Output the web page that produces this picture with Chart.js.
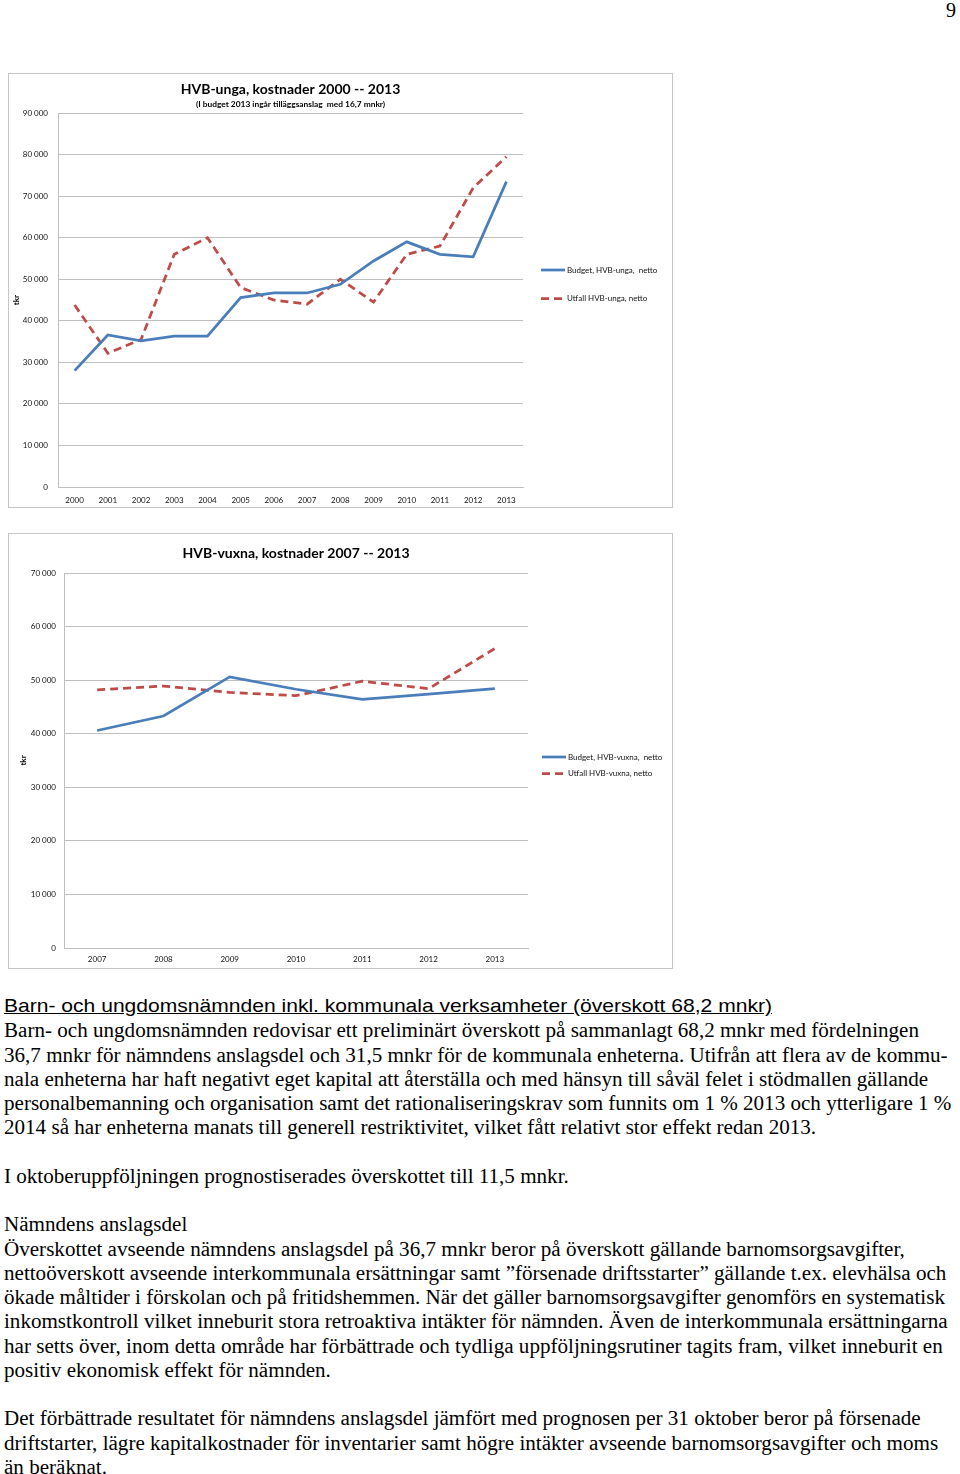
<!DOCTYPE html>
<html>
<head>
<meta charset="utf-8">
<script src="https://cdn.jsdelivr.net/npm/chart.js@4.4.1/dist/chart.umd.min.js"></script>
<style>
  body { margin: 0; background: #fff; width: 960px; height: 1474px; position: relative; overflow: hidden; }
  .pageno { position: absolute; right: 4px; top: -1px; font: 20px "Liberation Serif", serif; }
  .box { position: absolute; left: 8px; width: 663px; border: 1px solid #c6c6c6; background: #fff; }
  .box canvas { display: block; }
  #text { position: absolute; left: 4px; top: 995px; line-height: 24.26px; color: #000; }
  #text div { white-space: pre; height: 24.26px; transform-origin: 0 50%; }
  #text .head { font: 19px "Liberation Sans", Arial, sans-serif; text-decoration: underline; }
  #text .body { font: 20px "Liberation Serif", "Times New Roman", serif; }
</style>
</head>
<body>
<div class="pageno">9</div>
<div class="box" id="box1" style="top:73px;height:433px"><canvas id="unga" width="663" height="433"></canvas></div>
<div class="box" id="box2" style="top:533px;height:434px"><canvas id="vuxna" width="663" height="434"></canvas></div>

<div id="text">
  <div class="head">Barn- och ungdomsnämnden inkl. kommunala verksamheter (överskott 68,2 mnkr)</div>
  <div class="body" id="ref">Barn- och ungdomsnämnden redovisar ett preliminärt överskott på sammanlagt 68,2 mnkr med fördelningen</div>
  <div class="body">36,7 mnkr för nämndens anslagsdel och 31,5 mnkr för de kommunala enheterna. Utifrån att flera av de kommu-</div>
  <div class="body">nala enheterna har haft negativt eget kapital att återställa och med hänsyn till såväl felet i stödmallen gällande</div>
  <div class="body">personalbemanning och organisation samt det rationaliseringskrav som funnits om 1 % 2013 och ytterligare 1 %</div>
  <div class="body">2014 så har enheterna manats till generell restriktivitet, vilket fått relativt stor effekt redan 2013.</div>
  <div class="body"> </div>
  <div class="body">I oktoberuppföljningen prognostiserades överskottet till 11,5 mnkr.</div>
  <div class="body"> </div>
  <div class="body">Nämndens anslagsdel</div>
  <div class="body">Överskottet avseende nämndens anslagsdel på 36,7 mnkr beror på överskott gällande barnomsorgsavgifter,</div>
  <div class="body">nettoöverskott avseende interkommunala ersättningar samt ”försenade driftsstarter” gällande t.ex. elevhälsa och</div>
  <div class="body">ökade måltider i förskolan och på fritidshemmen. När det gäller barnomsorgsavgifter genomförs en systematisk</div>
  <div class="body">inkomstkontroll vilket inneburit stora retroaktiva intäkter för nämnden. Även de interkommunala ersättningarna</div>
  <div class="body">har setts över, inom detta område har förbättrade och tydliga uppföljningsrutiner tagits fram, vilket inneburit en</div>
  <div class="body">positiv ekonomisk effekt för nämnden.</div>
  <div class="body"> </div>
  <div class="body">Det förbättrade resultatet för nämndens anslagsdel jämfört med prognosen per 31 oktober beror på försenade</div>
  <div class="body">driftstarter, lägre kapitalkostnader för inventarier samt högre intäkter avseende barnomsorgsavgifter och moms</div>
  <div class="body">än beräknat.</div>
</div>

<script>
// HVB-unga 2000-2013 (tkr)
const ungaYears = ['2000', '2001', '2002', '2003', '2004', '2005', '2006', '2007', '2008', '2009', '2010', '2011', '2012', '2013'];
const ungaBudget = [28000, 36600, 35200, 36300, 36300, 45600, 46700, 46700, 48800, 54400, 59000, 56000, 55400, 73500];
const ungaUtfall = [43800, 32200, 35500, 56000, 60000, 48000, 45000, 44000, 50000, 44500, 56000, 58000, 72000, 79500];

// HVB-vuxna 2007-2013 (tkr)
const vuxnaYears = ['2007', '2008', '2009', '2010', '2011', '2012', '2013'];
const vuxnaBudget = [40600, 43300, 50600, 48300, 46400, 47400, 48400];
const vuxnaUtfall = [48200, 48900, 47700, 47100, 49800, 48400, 55900];

const FONT = 'Lato, "Open Sans", sans-serif';

// line samples + labels to the right of the plot
const sideLegend = {
    id: 'sideLegend',
    afterDraw(chart, args, opts) {
        const ctx = chart.ctx;
        chart.data.datasets.forEach((ds, i) => {
            const y = opts.y + i * opts.gap;
            ctx.save();
            ctx.strokeStyle = ds.borderColor;
            ctx.lineWidth = ds.borderWidth;
            ctx.setLineDash(ds.borderDash || []);
            ctx.beginPath();
            ctx.moveTo(opts.x, y);
            ctx.lineTo(opts.x + 24, y);
            ctx.stroke();
            ctx.setLineDash([]);
            ctx.fillStyle = '#111';
            ctx.font = '8px ' + FONT;
            ctx.textBaseline = 'middle';
            ctx.fillText(ds.label, opts.x + opts.textGap, y);
            ctx.restore();
        });
    }
};

function fmt(v) {
    return v === 0 ? '0' : String(v).replace(/\B(?=(\d{3})+(?!\d))/g, ' ');
}

function makeChart(id, years, budget, utfall, cfg) {
    return new Chart(document.getElementById(id), {
        type: 'line',
        data: {
            labels: years,
            datasets: [{
                label: cfg.budgetLabel,
                data: budget,
                borderColor: '#4a7ebb',
                borderWidth: 2.75,
                pointRadius: 0,
                tension: 0,
            }, {
                label: cfg.utfallLabel,
                data: utfall,
                borderColor: '#be4b48',
                borderWidth: 2.75,
                borderDash: [8, 5],
                pointRadius: 0,
                tension: 0,
            }],
        },
        plugins: [sideLegend],
        options: {
            responsive: false,
            animation: false,
            layout: { padding: { left: 0, right: cfg.padRight, top: 0, bottom: 0 } },
            plugins: {
                legend: { display: false },
                tooltip: { enabled: false },
                title: {
                    display: true,
                    text: cfg.title,
                    fullSize: false,
                    color: '#000',
                    font: { family: FONT, size: 14, weight: 'bold' },
                    padding: cfg.titlePad,
                },
                subtitle: {
                    display: !!cfg.subtitle,
                    text: cfg.subtitle,
                    fullSize: false,
                    color: '#000',
                    font: { family: FONT, size: 8.4, weight: 'bold' },
                    padding: { top: 1.6, bottom: 4 },
                },
                sideLegend: cfg.legend,
            },
            scales: {
                x: {
                    offset: true,
                    grid: { display: false, drawTicks: false },
                    border: { display: true, color: '#bfbfbf' },
                    ticks: { color: '#111', font: { family: FONT, size: 8 }, padding: cfg.xPad, autoSkip: false, maxRotation: 0 },
                    afterFit: (s) => { s.height = cfg.xHeight; },
                },
                y: {
                    min: 0,
                    max: cfg.yMax,
                    grid: { color: '#bfbfbf', lineWidth: 1, drawTicks: false },
                    border: { display: true, color: '#bfbfbf' },
                    ticks: { stepSize: 10000, color: '#111', font: { family: FONT, size: 8 }, padding: cfg.yPad, callback: fmt },
                    title: {
                        display: true,
                        text: 'tkr',
                        color: '#000',
                        font: { family: FONT, size: 8, weight: 'bold' },
                        padding: { top: cfg.tkrPad, bottom: 0 },
                    },
                    afterFit: (s) => { s.width = cfg.yWidth; },
                },
            },
        },
    });
}

makeChart('unga', ungaYears, ungaBudget, ungaUtfall, {
    budgetLabel: 'Budget, HVB-unga,  netto',
    utfallLabel: 'Utfall HVB-unga, netto',
    title: 'HVB-unga, kostnader 2000 -- 2013',
    subtitle: '(I budget 2013 ingår tilläggsanslag  med 16,7 mnkr)',
    titlePad: { top: 6.6, bottom: 0 },
    padRight: 149,
    yMax: 90000,
    yWidth: 49,
    yPad: 10,
    xHeight: 20,
    xPad: 9,
    tkrPad: 2.2,
    legend: { x: 532, y: 196, gap: 28.5, textGap: 26 },
});

makeChart('vuxna', vuxnaYears, vuxnaBudget, vuxnaUtfall, {
    budgetLabel: 'Budget, HVB-vuxna,  netto',
    utfallLabel: 'Utfall HVB-vuxna, netto',
    title: 'HVB-vuxna, kostnader 2007 -- 2013',
    subtitle: '',
    titlePad: { top: 10.6, bottom: 11.6 },
    padRight: 144,
    yMax: 70000,
    yWidth: 55,
    yPad: 8,
    xHeight: 20,
    xPad: 7,
    tkrPad: 10,
    legend: { x: 533, y: 223, gap: 16.5, textGap: 26 },
});

// squeeze text lines horizontally to the page's narrow typesetting
function fitLines() {
    const ref = document.getElementById('ref');
    const head = document.querySelector('#text .head');
    ref.style.display = 'inline-block';
    head.style.display = 'inline-block';
    const sBody = 915 / ref.getBoundingClientRect().width;
    const sHead = 768 / head.getBoundingClientRect().width;
    ref.style.display = '';
    head.style.display = '';
    document.querySelectorAll('#text .body').forEach(d => { d.style.transform = 'scaleX(' + sBody + ')'; });
    head.style.transform = 'scaleX(' + sHead + ')';
}
fitLines();
</script>
</body>
</html>
